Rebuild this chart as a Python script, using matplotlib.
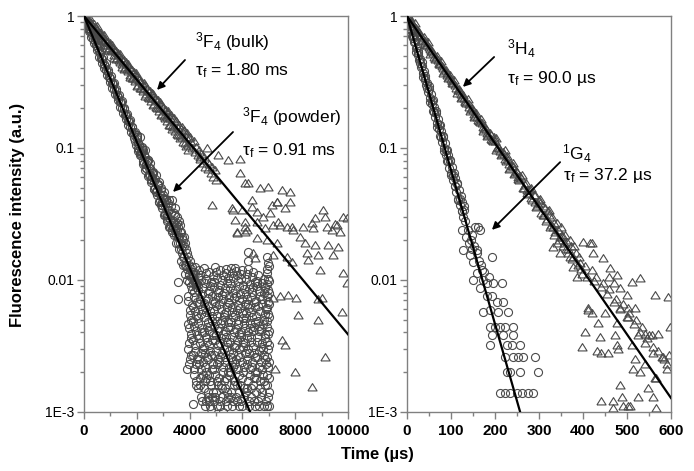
import matplotlib
matplotlib.use('Agg')
import matplotlib.pyplot as plt
from matplotlib.ticker import NullFormatter, LogLocator, MultipleLocator

plt.rcParams['font.family'] = ['Liberation Sans', 'DejaVu Sans']
plt.rcParams['mathtext.fontset'] = 'custom'
plt.rcParams['mathtext.rm'] = 'Liberation Sans'
plt.rcParams['mathtext.it'] = 'Liberation Sans:italic'
plt.rcParams['mathtext.bf'] = 'Liberation Sans:bold'

# ---------------- data (time in us, intensity in a.u.) ----------------
# 3F4 powder, circles
powder_dense = [
    (0, 1.00), (50, 0.93), (100, 0.90), (150, 0.84), (200, 0.81), (250, 0.75), (300, 0.72), (350, 0.67),
    (400, 0.65), (450, 0.60), (500, 0.58), (550, 0.54), (600, 0.52), (650, 0.48), (700, 0.47), (750, 0.43),
    (800, 0.42), (850, 0.39), (900, 0.375), (950, 0.345), (1000, 0.34), (1050, 0.31), (1100, 0.305),
    (1150, 0.278), (1200, 0.272), (1250, 0.250), (1300, 0.245), (1350, 0.224), (1400, 0.221), (1450, 0.200),
    (1500, 0.197), (1550, 0.178), (1600, 0.178), (1650, 0.159), (1700, 0.160), (1750, 0.143), (1800, 0.144),
    (1850, 0.127), (1900, 0.129), (1950, 0.113), (2000, 0.116), (2050, 0.100), (2100, 0.105), (2150, 0.089),
    (2200, 0.095), (2250, 0.079), (2300, 0.086), (2350, 0.070), (2400, 0.078), (2450, 0.062), (2500, 0.071),
    (2550, 0.055), (2600, 0.064), (2650, 0.049), (2700, 0.058), (2750, 0.044), (2800, 0.053), (2850, 0.039),
    (2900, 0.048), (2950, 0.035), (3000, 0.044), (3050, 0.031), (3100, 0.041), (3150, 0.028), (3200, 0.038),
    (3250, 0.025), (3300, 0.036), (3350, 0.023), (3400, 0.032),
    (2025, 0.120), (2125, 0.092), (2225, 0.097), (2325, 0.068), (2425, 0.081), (2525, 0.058), (2625, 0.066),
    (2725, 0.047), (2825, 0.055), (2925, 0.037), (3025, 0.046), (3125, 0.030), (3225, 0.040), (3325, 0.040),
    (3375, 0.028), (3425, 0.022), (3450, 0.035), (3475, 0.026), (3500, 0.019), (3525, 0.030), (3550, 0.021),
    (3575, 0.025), (3600, 0.017), (3625, 0.023), (3650, 0.019), (3675, 0.014), (3700, 0.021), (3725, 0.016),
    (3750, 0.013), (3775, 0.018), (3800, 0.015), (3825, 0.011), (3850, 0.017), (3875, 0.013), (3900, 0.010),
    (3560, 0.0096), (3560, 0.0071), (4130, 0.00115),
]
powder_dense2 = [
    (25, 0.99), (75, 0.86), (125, 0.94), (175, 0.77), (225, 0.84), (275, 0.69), (325, 0.76), (375, 0.62),
    (425, 0.68), (475, 0.55), (525, 0.61), (575, 0.49), (625, 0.54), (675, 0.44), (725, 0.49), (775, 0.40),
    (825, 0.44), (875, 0.355), (925, 0.39), (975, 0.318), (1025, 0.35), (1075, 0.285), (1125, 0.313),
    (1175, 0.256), (1225, 0.281), (1275, 0.229), (1325, 0.252), (1375, 0.205), (1425, 0.226), (1475, 0.184),
    (1525, 0.202), (1575, 0.165), (1625, 0.181), (1675, 0.148), (1725, 0.162), (1775, 0.132), (1825, 0.145),
    (1875, 0.118), (1925, 0.131), (1975, 0.106),
    (2012, 0.126), (2037, 0.094), (2062, 0.109), (2087, 0.096), (2112, 0.120), (2137, 0.088), (2162, 0.093),
    (2187, 0.100), (2212, 0.101), (2237, 0.075), (2262, 0.088), (2287, 0.077), (2312, 0.096), (2337, 0.071),
    (2362, 0.075), (2387, 0.080), (2412, 0.081), (2437, 0.061), (2462, 0.070), (2487, 0.062), (2512, 0.077),
    (2537, 0.057), (2562, 0.060), (2587, 0.064), (2612, 0.065), (2637, 0.049), (2662, 0.056), (2687, 0.050),
    (2712, 0.062), (2737, 0.046), (2762, 0.048), (2787, 0.052), (2812, 0.052), (2837, 0.039), (2862, 0.045),
    (2887, 0.040), (2912, 0.050), (2937, 0.037), (2962, 0.039), (2987, 0.041), (3012, 0.042), (3037, 0.031),
    (3062, 0.036), (3087, 0.032), (3112, 0.040), (3137, 0.029), (3162, 0.031), (3187, 0.033), (3212, 0.034),
    (3237, 0.025), (3262, 0.029), (3287, 0.026), (3312, 0.032), (3337, 0.024), (3362, 0.025), (3387, 0.027),
    (3420, 0.027), (3440, 0.024), (3460, 0.031), (3480, 0.022), (3510, 0.027), (3530, 0.024), (3560, 0.019),
    (3590, 0.028), (3610, 0.021), (3640, 0.026), (3660, 0.017), (3690, 0.023), (3710, 0.018), (3740, 0.020),
    (3760, 0.015), (3790, 0.021), (3810, 0.013), (3840, 0.019), (3860, 0.014), (3890, 0.016), (3910, 0.012),
    (3930, 0.015), (3960, 0.013), (3990, 0.011), (4020, 0.014), (4050, 0.0105), (4080, 0.0125), (4110, 0.0095),
    (4140, 0.011), (4170, 0.0098), (4220, 0.0112), (4260, 0.0094), (4300, 0.0105),
]
powder_cloud = [
    (4050, 0.0120), (3980, 0.0096), (4080, 0.0083), (3950, 0.0069), (4030, 0.0059), (4070, 0.0050),
    (3990, 0.0043), (4060, 0.0036), (3940, 0.0030), (4010, 0.0025), (3920, 0.0021),
    (4200, 0.0125), (4140, 0.0105), (4260, 0.0088), (4180, 0.0074), (4120, 0.0062), (4240, 0.0053),
    (4160, 0.0045), (4280, 0.0038), (4210, 0.0032), (4130, 0.0027), (4250, 0.0023), (4170, 0.0019), (4230, 0.0016),
    (4350, 0.0118), (4440, 0.0099), (4310, 0.0084), (4400, 0.0071), (4470, 0.0060), (4330, 0.0051),
    (4420, 0.0043), (4370, 0.0036), (4490, 0.0030), (4340, 0.0025), (4450, 0.0021), (4390, 0.0018),
    (4320, 0.0015), (4460, 0.0012),
    (4560, 0.0122), (4620, 0.0102), (4520, 0.0086), (4680, 0.0073), (4590, 0.0062), (4540, 0.0052),
    (4650, 0.0044), (4610, 0.0037), (4530, 0.0031), (4670, 0.0026), (4580, 0.0022), (4640, 0.0018),
    (4550, 0.0015), (4690, 0.0013), (4600, 0.0011),
    (4750, 0.0115), (4820, 0.0097), (4720, 0.0082), (4880, 0.0069), (4790, 0.0058), (4840, 0.0049),
    (4730, 0.0041), (4860, 0.0035), (4780, 0.0029), (4710, 0.0025), (4850, 0.0021), (4770, 0.0017),
    (4890, 0.0014), (4740, 0.0012), (4810, 0.00105),
    (4960, 0.0124), (5030, 0.0104), (4920, 0.0088), (5080, 0.0074), (4990, 0.0063), (5050, 0.0053),
    (4940, 0.0045), (5010, 0.0038), (5070, 0.0032), (4910, 0.0027), (5040, 0.0023), (4970, 0.0019),
    (5090, 0.0016), (4950, 0.0013), (5020, 0.0011),
    (5150, 0.0118), (5220, 0.0099), (5120, 0.0084), (5270, 0.0071), (5180, 0.0060), (5240, 0.0050),
    (5130, 0.0043), (5200, 0.0036), (5290, 0.0030), (5160, 0.0026), (5250, 0.0022), (5110, 0.0018),
    (5230, 0.0015), (5170, 0.0012), (5280, 0.0010),
    (5360, 0.0112), (5420, 0.0094), (5320, 0.0080), (5470, 0.0068), (5380, 0.0057), (5440, 0.0048),
    (5330, 0.0041), (5400, 0.0034), (5490, 0.0029), (5350, 0.0024), (5460, 0.0020), (5310, 0.0017),
    (5430, 0.0014), (5370, 0.0012),
    (5560, 0.0123), (5630, 0.0103), (5520, 0.0087), (5680, 0.0073), (5590, 0.0062), (5650, 0.0052),
    (5540, 0.0044), (5610, 0.0037), (5690, 0.0031), (5570, 0.0026), (5640, 0.0022), (5510, 0.0019),
    (5670, 0.0016), (5580, 0.0013), (5620, 0.0011),
    (5760, 0.0117), (5830, 0.0098), (5720, 0.0083), (5880, 0.0070), (5790, 0.0059), (5850, 0.0050),
    (5740, 0.0042), (5810, 0.0035), (5890, 0.0030), (5770, 0.0025), (5840, 0.0021), (5710, 0.0017),
    (5870, 0.0014), (5780, 0.0012),
    (5960, 0.0110), (6030, 0.0092), (5920, 0.0078), (6080, 0.0066), (5990, 0.0056), (6050, 0.0047),
    (5940, 0.0040), (6010, 0.0034), (6090, 0.0028), (5970, 0.0024), (6040, 0.0020), (5910, 0.0016),
    (6070, 0.0013), (5980, 0.0011),
    (6210, 0.0163), (6200, 0.0140), (6220, 0.0121), (6150, 0.0101), (6260, 0.0085), (6180, 0.0072),
    (6240, 0.0061), (6130, 0.0051), (6270, 0.0043), (6190, 0.0036), (6230, 0.0030), (6160, 0.0025),
    (6280, 0.0021), (6210, 0.0017), (6140, 0.0014), (6250, 0.0011),
    (6360, 0.0105), (6420, 0.0088), (6330, 0.0074), (6470, 0.0062), (6380, 0.0052), (6440, 0.0044),
    (6340, 0.0037), (6400, 0.0031), (6490, 0.0026), (6370, 0.0022), (6450, 0.0018), (6320, 0.0015),
    (6430, 0.0012),
    (6560, 0.0098), (6620, 0.0082), (6530, 0.0069), (6680, 0.0058), (6590, 0.0049), (6640, 0.0041),
    (6540, 0.0034), (6610, 0.0029), (6690, 0.0024), (6570, 0.0020), (6650, 0.0017), (6520, 0.0014),
    (6630, 0.0011),
    (6760, 0.0094), (6820, 0.0079), (6730, 0.0066), (6870, 0.0055), (6790, 0.0046), (6840, 0.0039),
    (6740, 0.0033), (6810, 0.0027), (6880, 0.0023), (6770, 0.0019), (6850, 0.0016), (6720, 0.0013),
    (6830, 0.0011),
    (6950, 0.0150), (6960, 0.0135), (6940, 0.0121), (6950, 0.0112), (6970, 0.0102), (6930, 0.0093),
    (6960, 0.0084), (6950, 0.0076), (6980, 0.0068), (6940, 0.0061), (6960, 0.0055), (6950, 0.0049),
    (6930, 0.0044), (6970, 0.0039), (6950, 0.0034), (6960, 0.0030), (6940, 0.0026), (6980, 0.0022),
    (6950, 0.0019), (6930, 0.0016), (6960, 0.0013), (6950, 0.0011),
    (5720, 0.0123), (6550, 0.0095),
]
powder_cloud2 = [
    (3960, 0.0108), (4040, 0.0089), (3930, 0.0076), (4090, 0.0064), (4000, 0.0054), (3950, 0.0046),
    (4070, 0.0039), (3970, 0.0033), (4040, 0.0027), (3980, 0.0023),
    (4110, 0.0115), (4220, 0.0097), (4150, 0.0081), (4270, 0.0068), (4190, 0.0058), (4140, 0.0049),
    (4250, 0.0041), (4120, 0.0035), (4200, 0.0029), (4290, 0.0025), (4160, 0.0021), (4260, 0.0017),
    (4410, 0.0108), (4330, 0.0092), (4480, 0.0078), (4360, 0.0065), (4430, 0.0055), (4310, 0.0047),
    (4460, 0.0040), (4380, 0.0033), (4420, 0.0028), (4350, 0.0023), (4490, 0.0019), (4400, 0.0016), (4440, 0.0013),
    (4640, 0.0112), (4570, 0.0094), (4690, 0.0079), (4530, 0.0067), (4620, 0.0057), (4680, 0.0048),
    (4550, 0.0040), (4660, 0.0034), (4590, 0.0028), (4520, 0.0024), (4630, 0.0020), (4570, 0.0017),
    (4680, 0.0014), (4610, 0.0012),
    (4870, 0.0106), (4780, 0.0089), (4830, 0.0075), (4710, 0.0063), (4860, 0.0053), (4760, 0.0045),
    (4890, 0.0038), (4720, 0.0032), (4820, 0.0027), (4880, 0.0023), (4740, 0.0019), (4800, 0.0016),
    (4850, 0.0013), (4770, 0.0011),
    (5000, 0.0114), (4930, 0.0096), (5060, 0.0081), (4980, 0.0068), (4910, 0.0058), (5030, 0.0049),
    (5090, 0.0041), (4950, 0.0035), (5010, 0.0029), (5080, 0.0025), (4940, 0.0021), (5050, 0.0017),
    (4990, 0.0014), (4920, 0.0012),
    (5260, 0.0108), (5140, 0.0091), (5210, 0.0077), (5110, 0.0065), (5290, 0.0055), (5190, 0.0047),
    (5250, 0.0039), (5160, 0.0033), (5230, 0.0028), (5120, 0.0024), (5280, 0.0020), (5180, 0.0016),
    (5220, 0.0013), (5140, 0.0011),
    (5390, 0.0120), (5450, 0.0103), (5340, 0.0087), (5480, 0.0074), (5410, 0.0062), (5310, 0.0052),
    (5460, 0.0044), (5370, 0.0037), (5420, 0.0031), (5330, 0.0026), (5490, 0.0022), (5390, 0.0018),
    (5350, 0.0015), (5470, 0.0013), (5410, 0.0011),
    (5600, 0.0113), (5540, 0.0095), (5660, 0.0080), (5510, 0.0067), (5620, 0.0057), (5580, 0.0048),
    (5690, 0.0040), (5530, 0.0034), (5650, 0.0028), (5600, 0.0024), (5520, 0.0020), (5680, 0.0017),
    (5560, 0.0014), (5640, 0.0012),
    (5800, 0.0108), (5870, 0.0090), (5740, 0.0076), (5850, 0.0064), (5710, 0.0054), (5820, 0.0046),
    (5890, 0.0039), (5760, 0.0032), (5840, 0.0027), (5730, 0.0023), (5880, 0.0019), (5790, 0.0016),
    (5750, 0.0013), (5860, 0.0011),
    (6000, 0.0118), (5930, 0.0101), (6060, 0.0085), (5970, 0.0072), (5900, 0.0061), (6040, 0.0051),
    (6090, 0.0043), (5950, 0.0037), (6020, 0.0031), (5910, 0.0026), (6070, 0.0022), (5990, 0.0018),
    (6050, 0.0015), (5940, 0.0012),
    (6170, 0.0110), (6290, 0.0093), (6120, 0.0078), (6230, 0.0066), (6140, 0.0056), (6270, 0.0047),
    (6200, 0.0040), (6110, 0.0033), (6250, 0.0028), (6160, 0.0023), (6290, 0.0019), (6180, 0.0015),
    (6240, 0.0012),
    (6400, 0.0114), (6480, 0.0096), (6350, 0.0081), (6430, 0.0068), (6310, 0.0057), (6460, 0.0048),
    (6390, 0.0041), (6330, 0.0034), (6440, 0.0028), (6360, 0.0024), (6490, 0.0020), (6410, 0.0016),
    (6340, 0.0013), (6470, 0.0011),
    (6600, 0.0108), (6540, 0.0090), (6670, 0.0075), (6580, 0.0063), (6510, 0.0053), (6640, 0.0045),
    (6570, 0.0037), (6690, 0.0031), (6550, 0.0026), (6620, 0.0022), (6530, 0.0018), (6660, 0.0015),
    (6590, 0.0012),
    (6800, 0.0102), (6860, 0.0086), (6750, 0.0072), (6890, 0.0060), (6810, 0.0050), (6720, 0.0042),
    (6840, 0.0036), (6780, 0.0030), (6870, 0.0025), (6730, 0.0021), (6820, 0.0017), (6760, 0.0014),
    (6880, 0.0012),
    (7000, 0.0128), (7010, 0.0098), (6990, 0.0080), (7000, 0.0065), (7010, 0.0052), (6990, 0.0041),
    (7000, 0.0032), (7010, 0.0024), (6990, 0.0018), (7000, 0.0014), (7010, 0.0011),
]

# 3F4 bulk, triangles
bulk_dense = [
    (0, 1.00), (50, 0.96), (100, 0.95), (150, 0.93), (200, 0.87), (250, 0.88), (300, 0.86), (350, 0.80),
    (400, 0.83), (450, 0.76), (500, 0.78), (550, 0.72), (600, 0.74), (650, 0.68), (700, 0.70), (750, 0.64),
    (800, 0.66), (850, 0.60), (900, 0.63), (950, 0.57), (1000, 0.60), (1050, 0.54), (1100, 0.56), (1150, 0.51),
    (1200, 0.54), (1250, 0.48), (1300, 0.51), (1350, 0.45), (1400, 0.48), (1450, 0.43), (1500, 0.46),
    (1550, 0.40), (1600, 0.44), (1650, 0.38), (1700, 0.41), (1750, 0.36), (1800, 0.39), (1850, 0.34),
    (1900, 0.37), (1950, 0.32), (2000, 0.35), (2050, 0.30), (2100, 0.33), (2150, 0.285), (2200, 0.31),
    (2250, 0.27), (2300, 0.30), (2350, 0.255), (2400, 0.28), (2450, 0.24), (2500, 0.27), (2550, 0.225),
    (2600, 0.255), (2650, 0.215), (2700, 0.24), (2750, 0.20), (2800, 0.23), (2850, 0.19), (2900, 0.215),
    (2950, 0.18), (3000, 0.205), (3050, 0.17), (3100, 0.195), (3150, 0.16), (3200, 0.185), (3250, 0.15),
    (3300, 0.178), (3350, 0.14), (3400, 0.168), (3450, 0.135), (3500, 0.160), (3550, 0.125), (3600, 0.150),
    (3650, 0.118), (3700, 0.143), (3750, 0.110), (3800, 0.136), (3850, 0.104), (3900, 0.130), (3950, 0.097),
    (4000, 0.122),
]
bulk_dense2 = [
    (25, 0.92), (75, 0.99), (125, 0.905), (175, 0.99), (225, 0.795), (275, 0.892), (325, 0.777), (375, 0.869),
    (425, 0.766), (475, 0.845), (525, 0.672), (575, 0.756), (625, 0.658), (675, 0.735), (725, 0.649),
    (775, 0.715), (825, 0.570), (875, 0.640), (925, 0.556), (975, 0.623), (1025, 0.549), (1075, 0.606),
    (1125, 0.482), (1175, 0.542), (1225, 0.472), (1275, 0.528), (1325, 0.465), (1375, 0.513), (1425, 0.408),
    (1475, 0.459), (1525, 0.399), (1575, 0.446), (1625, 0.394), (1675, 0.435), (1725, 0.346), (1775, 0.388),
    (1825, 0.338), (1875, 0.378), (1925, 0.334), (1975, 0.367), (2025, 0.293), (2075, 0.329), (2125, 0.286),
    (2175, 0.320), (2225, 0.282), (2275, 0.311), (2325, 0.248), (2375, 0.279), (2425, 0.242), (2475, 0.271),
    (2525, 0.239), (2575, 0.263), (2625, 0.210), (2675, 0.236), (2725, 0.205), (2775, 0.229), (2825, 0.202),
    (2875, 0.223), (2925, 0.177), (2975, 0.200), (3025, 0.174), (3075, 0.194), (3125, 0.171), (3175, 0.189),
    (3225, 0.150), (3275, 0.168), (3325, 0.147), (3375, 0.165), (3425, 0.145), (3475, 0.160), (3525, 0.127),
    (3575, 0.142), (3625, 0.125), (3675, 0.139), (3725, 0.122), (3775, 0.135), (3825, 0.108), (3875, 0.121),
    (3925, 0.105), (3975, 0.118),
]
bulk_scatter = [
    (4050, 0.110), (4100, 0.100), (4150, 0.113), (4200, 0.093), (4250, 0.102), (4300, 0.088), (4350, 0.097),
    (4400, 0.083), (4450, 0.090), (4500, 0.077), (4550, 0.086), (4600, 0.072), (4650, 0.080), (4700, 0.069),
    (4750, 0.076), (4800, 0.064), (4850, 0.072), (4900, 0.060), (4950, 0.068), (5000, 0.057),
    (5080, 0.088), (5455, 0.081), (5910, 0.082), (4836, 0.037), (5910, 0.0645), (6212, 0.0542),
    (6099, 0.054), (6667, 0.0497), (6970, 0.0505), (7500, 0.048), (7803, 0.0464), (7311, 0.0389),
    (5606, 0.035), (5985, 0.0338), (6364, 0.0356), (6553, 0.0326), (6364, 0.040), (7122, 0.0372),
    (5720, 0.0284), (6099, 0.0274), (6553, 0.0274), (5796, 0.0230), (6174, 0.0238), (6856, 0.0247),
    (7349, 0.0274), (7879, 0.0251), (7425, 0.0261), (6553, 0.0207), (6932, 0.0200), (7311, 0.0190),
    (8182, 0.0211), (8371, 0.0190), (8750, 0.0294), (9053, 0.0338), (8674, 0.0247), (9205, 0.0251),
    (9508, 0.0263), (9697, 0.0230), (9962, 0.0294), (8750, 0.0184), (9243, 0.0184), (9621, 0.0178),
    (8447, 0.0160), (8864, 0.0154), (9432, 0.0154), (6402, 0.0160), (7160, 0.0154), (7690, 0.0149),
    (7879, 0.0137), (8485, 0.0141), (7160, 0.0073), (7425, 0.0075), (7727, 0.0077), (8030, 0.0073),
    (8864, 0.0071), (8106, 0.0054), (8864, 0.0050), (5800, 0.0226), (6100, 0.023), (6480, 0.0146),
    (9810, 0.0113), (9960, 0.0095), (9770, 0.0057), (9020, 0.0073), (7500, 0.0035), (7610, 0.0032),
    (9130, 0.0026), (7230, 0.0021), (7990, 0.0020), (8640, 0.00155), (8940, 0.0118), (5650, 0.034),
    (6100, 0.025), (6780, 0.030), (7160, 0.026), (7920, 0.024), (8300, 0.025), (8640, 0.027),
    (9130, 0.030), (9390, 0.024), (9580, 0.026), (9810, 0.030), (7690, 0.025), (7310, 0.039),
    (7610, 0.035), (7800, 0.039), (7050, 0.032), (4394, 0.085), (4660, 0.100),
]

# 3H4, triangles
h4_dense = [
    (0, 1.00), (5, 0.95), (10, 0.90), (15, 0.84), (20, 0.81), (25, 0.75), (30, 0.72), (35, 0.68), (40, 0.65),
    (45, 0.60), (50, 0.58), (55, 0.54), (60, 0.52), (65, 0.48), (70, 0.465), (75, 0.43), (80, 0.415),
    (85, 0.385), (90, 0.372), (95, 0.343), (100, 0.333), (105, 0.308), (110, 0.299), (115, 0.275),
    (120, 0.268), (125, 0.245), (130, 0.240), (135, 0.218), (140, 0.215), (145, 0.196), (150, 0.193),
    (155, 0.175), (160, 0.173), (165, 0.156), (170, 0.155), (175, 0.140), (180, 0.139), (185, 0.125),
    (190, 0.125), (195, 0.112), (200, 0.112), (205, 0.100), (210, 0.100), (215, 0.090), (220, 0.090),
    (225, 0.080), (230, 0.081), (235, 0.071), (240, 0.073), (245, 0.064), (250, 0.066), (255, 0.057),
    (260, 0.059), (265, 0.050), (270, 0.054), (275, 0.045), (280, 0.049), (285, 0.040), (290, 0.044),
    (295, 0.036), (300, 0.040), (305, 0.032), (310, 0.036), (315, 0.028), (320, 0.033), (325, 0.025),
    (330, 0.030), (335, 0.022), (340, 0.027), (345, 0.020), (350, 0.025), (355, 0.018), (360, 0.022),
    (365, 0.016), (370, 0.020), (375, 0.0145), (380, 0.018),
    (2, 0.98), (12, 0.88), (22, 0.79), (32, 0.70), (42, 0.62), (52, 0.56), (62, 0.49), (72, 0.44),
    (82, 0.40), (92, 0.355), (102, 0.32), (112, 0.285), (122, 0.255), (132, 0.228), (142, 0.204),
    (152, 0.181), (162, 0.162), (172, 0.145), (182, 0.130), (192, 0.116),
    (202, 0.118), (212, 0.094), (222, 0.096), (232, 0.075), (242, 0.077), (252, 0.060), (262, 0.062),
    (272, 0.048), (282, 0.050), (292, 0.039), (302, 0.041), (312, 0.031), (322, 0.034), (332, 0.0177),
    (332, 0.025), (342, 0.0189), (348, 0.016), (352, 0.021), (362, 0.017), (370, 0.015), (377, 0.0125),
    (386, 0.0105),
]
h4_dense2 = [
    (2.5, 0.915), (7.5, 0.966), (12.5, 0.844), (17.5, 0.890), (22.5, 0.717), (27.5, 0.759), (32.5, 0.655),
    (37.5, 0.692), (42.5, 0.605), (47.5, 0.637), (52.5, 0.513), (57.5, 0.544), (62.5, 0.469), (67.5, 0.496),
    (72.5, 0.434), (77.5, 0.457), (82.5, 0.368), (87.5, 0.389), (92.5, 0.337), (97.5, 0.355), (102.5, 0.310),
    (107.5, 0.327), (112.5, 0.263), (117.5, 0.279), (122.5, 0.241), (127.5, 0.254), (132.5, 0.222),
    (137.5, 0.234), (142.5, 0.189), (147.5, 0.200), (152.5, 0.173), (157.5, 0.183), (162.5, 0.159),
    (167.5, 0.167), (172.5, 0.135), (177.5, 0.143), (182.5, 0.124), (187.5, 0.130), (192.5, 0.114),
    (197.5, 0.120), (202.5, 0.0966), (207.5, 0.102), (212.5, 0.0885), (217.5, 0.0935), (222.5, 0.0817),
    (227.5, 0.0861), (232.5, 0.0694), (237.5, 0.0734), (242.5, 0.0634), (247.5, 0.0670), (252.5, 0.0585),
    (257.5, 0.0617), (262.5, 0.0497), (267.5, 0.0526), (272.5, 0.0454), (277.5, 0.0480), (282.5, 0.0419),
    (287.5, 0.0442), (292.5, 0.0356), (297.5, 0.0377),
    (303, 0.038), (308, 0.031), (313, 0.035), (318, 0.029), (323, 0.031), (327, 0.026), (333, 0.027),
    (337, 0.023), (343, 0.024), (347, 0.021), (353, 0.022), (357, 0.019), (363, 0.0195), (367, 0.017),
    (373, 0.018), (378, 0.015), (383, 0.016), (388, 0.013), (393, 0.0135), (398, 0.011),
]
h4_scatter = [
    (390, 0.0150), (395, 0.0120), (405, 0.0128), (410, 0.0105), (420, 0.0118), (425, 0.0098), (430, 0.0105),
    (440, 0.0088), (445, 0.0095), (455, 0.0078), (460, 0.0085), (470, 0.0068), (475, 0.0072), (485, 0.0060),
    (490, 0.0065), (500, 0.0052), (505, 0.0056), (515, 0.0046), (520, 0.0050), (530, 0.0040), (535, 0.0044),
    (545, 0.0036), (550, 0.0038), (560, 0.0031), (570, 0.0029), (580, 0.0026), (590, 0.0023), (595, 0.0027),
    (401, 0.0194), (420, 0.0189), (446, 0.0146), (461, 0.0122), (477, 0.0109), (511, 0.0097), (530, 0.0103),
    (484, 0.0086), (499, 0.0077), (564, 0.0077), (594, 0.0074), (412, 0.0061), (420, 0.0056), (450, 0.0056),
    (484, 0.0061), (503, 0.0061), (518, 0.0061), (435, 0.0047), (477, 0.0047), (503, 0.0052), (405, 0.0040),
    (439, 0.0037), (473, 0.0038), (477, 0.0032), (397, 0.0031), (431, 0.0029), (442, 0.0028), (457, 0.0028),
    (480, 0.0030), (511, 0.0032), (526, 0.0038), (541, 0.0039), (556, 0.0038), (571, 0.0039), (541, 0.0033),
    (518, 0.0025), (541, 0.0023), (560, 0.0028), (583, 0.0025), (590, 0.0021), (514, 0.0021), (530, 0.0020),
    (567, 0.0018), (548, 0.0015), (484, 0.0016), (526, 0.0013), (560, 0.0013), (442, 0.0012), (469, 0.0012),
    (488, 0.0013), (567, 0.00106), (469, 0.00106), (492, 0.0011), (507, 0.0011), (598, 0.0044),
    (416, 0.0190), (423, 0.0160), (411, 0.0059), (582, 0.0026), (564, 0.0018), (502, 0.0011),
    (460, 0.0105), (470, 0.0095),
]

# 1G4, circles
g4_dense = [
    (0, 0.98), (2, 0.96), (4, 0.88), (6, 0.87), (8, 0.79), (10, 0.79), (12, 0.71), (14, 0.71), (16, 0.64),
    (18, 0.64), (20, 0.57), (22, 0.58), (24, 0.51), (26, 0.52), (28, 0.46), (30, 0.47), (32, 0.41),
    (34, 0.42), (36, 0.37), (38, 0.38), (40, 0.33), (42, 0.34), (44, 0.30), (46, 0.31), (48, 0.265),
    (50, 0.28), (52, 0.24), (54, 0.255), (56, 0.215), (58, 0.23), (60, 0.19), (62, 0.205), (64, 0.172),
    (66, 0.185), (68, 0.155), (70, 0.166), (72, 0.139), (74, 0.150), (76, 0.124), (78, 0.135), (80, 0.111),
    (82, 0.121), (84, 0.100), (86, 0.108), (88, 0.089), (90, 0.097), (92, 0.080), (94, 0.088), (96, 0.071),
    (98, 0.080), (100, 0.064), (102, 0.072), (104, 0.057), (106, 0.065), (108, 0.051), (110, 0.059),
    (112, 0.046), (114, 0.054), (116, 0.041), (118, 0.048), (120, 0.037), (122, 0.043), (124, 0.033),
    (126, 0.039), (128, 0.030), (130, 0.036),
    (1, 0.99), (5, 0.81), (9, 0.82), (13, 0.68), (17, 0.70), (21, 0.53), (25, 0.54), (29, 0.44), (33, 0.45),
    (37, 0.344), (41, 0.349), (45, 0.286), (49, 0.295), (53, 0.224), (57, 0.227), (61, 0.186), (65, 0.191),
    (69, 0.145), (73, 0.148), (77, 0.121), (81, 0.124), (85, 0.095), (89, 0.096), (93, 0.079), (97, 0.081),
    (101, 0.062), (105, 0.062), (109, 0.051), (113, 0.053), (117, 0.040), (121, 0.041), (125, 0.033),
    (129, 0.034),
]
g4_tail = [
    (127, 0.0168), (143, 0.0154), (150, 0.0137), (193, 0.0150), (159, 0.0113), (170, 0.0119), (150, 0.0100),
    (173, 0.0100), (166, 0.0087), (182, 0.0094), (195, 0.0094), (216, 0.0094), (182, 0.0075), (193, 0.0075),
    (205, 0.0068), (218, 0.0068), (173, 0.0057), (189, 0.0059), (207, 0.0057), (230, 0.0057), (189, 0.0044),
    (200, 0.0044), (211, 0.0044), (223, 0.0044), (241, 0.0044), (193, 0.0038), (218, 0.0038), (241, 0.0038),
    (189, 0.0032), (227, 0.0032), (239, 0.0032), (257, 0.0032), (223, 0.0026), (241, 0.0026), (252, 0.0026),
    (264, 0.0026), (291, 0.0026), (227, 0.0020), (234, 0.0020), (257, 0.0020), (298, 0.0020), (211, 0.00138),
    (223, 0.00138), (234, 0.00138), (250, 0.00138), (261, 0.00138), (275, 0.00138), (286, 0.00138),
    (166, 0.0239), (155, 0.025), (148, 0.022), (135, 0.021), (140, 0.019), (161, 0.025), (125, 0.0239),
    (132, 0.028), (138, 0.024), (145, 0.020), (152, 0.018), (158, 0.016), (164, 0.014), (168, 0.013),
    (176, 0.0115), (186, 0.0105), (160, 0.0168), (147, 0.017),
]

# single-exponential fits: end points of each straight line on the log axis
bulk_fit_t, bulk_fit_y = [0, 10000], [1.0, 0.00386]
powder_fit_t, powder_fit_y = [0, 6500], [1.0, 0.00079]
h4_fit_t, h4_fit_y = [0, 600], [1.0, 0.00127]
g4_fit_t, g4_fit_y = [0, 270], [1.0, 0.000704]

y_ticks = [1e-3, 1e-2, 1e-1, 1]
y_tick_labels = ['1E-3', '0.01', '0.1', '1']
left_x_ticks = [0, 2000, 4000, 6000, 8000, 10000]
right_x_ticks = [0, 100, 200, 300, 400, 500, 600]

EDGE = '#4a4a4a'
FRAME = '#808080'
TRI = [(-1, -0.75), (1, -0.75), (0, 0.85), (-1, -0.75)]


def scatter(ax, pts, marker, ms):
    t, y = zip(*pts)
    ax.plot(t, y, linestyle='none', marker=marker, ms=ms, mfc='none', mec=EDGE, mew=0.8, zorder=2)


def style_axes(ax, xticks, xmax, minor):
    ax.set_yscale('log')
    ax.set_ylim(1e-3, 1)
    ax.set_xlim(0, xmax)
    ax.set_yticks(y_ticks)
    ax.set_yticklabels(y_tick_labels, fontsize=10)
    ax.yaxis.set_minor_locator(LogLocator(base=10, subs=range(2, 10)))
    ax.yaxis.set_minor_formatter(NullFormatter())
    ax.set_xticks(xticks)
    ax.set_xticklabels([str(v) for v in xticks], fontsize=11, fontweight='bold')
    ax.xaxis.set_minor_locator(MultipleLocator(minor))
    for s in ax.spines.values():
        s.set_color(FRAME)
        s.set_linewidth(1.0)
    ax.tick_params(which='both', direction='out', color=FRAME, width=1.0)
    ax.tick_params(which='major', length=5)
    ax.tick_params(which='minor', length=3)
    ax.tick_params(axis='x', pad=4)
    ax.tick_params(axis='y', pad=2)


fig = plt.figure(figsize=(6.94, 4.71), dpi=100)
ax1 = fig.add_axes([84 / 694, 59.3 / 471, 264 / 694, 395.7 / 471])
ax2 = fig.add_axes([407 / 694, 59.3 / 471, 264 / 694, 395.7 / 471])

# left panel
for pts in (bulk_dense, bulk_dense2, bulk_scatter):
    scatter(ax1, pts, TRI, 6.6)
for pts in (powder_dense, powder_dense2, powder_cloud, powder_cloud2):
    scatter(ax1, pts, 'o', 5.8)
ax1.plot(bulk_fit_t, bulk_fit_y, color='black', lw=1.6, zorder=3)
ax1.plot(powder_fit_t, powder_fit_y, color='black', lw=1.6, zorder=3)
style_axes(ax1, left_x_ticks, 10000, 1000)

# right panel
for pts in (h4_dense, h4_dense2, h4_scatter):
    scatter(ax2, pts, TRI, 6.6)
for pts in (g4_dense, g4_tail):
    scatter(ax2, pts, 'o', 5.8)
ax2.plot(h4_fit_t, h4_fit_y, color='black', lw=1.6, zorder=3)
ax2.plot(g4_fit_t, g4_fit_y, color='black', lw=1.6, zorder=3)
style_axes(ax2, right_x_ticks, 600, 50)

arrow = dict(arrowstyle='-|>', color='black', lw=1.3, mutation_scale=11, shrinkA=0, shrinkB=0)
tfs = 12.5

ax1.text(4205, 0.58, r'$^{3}$F$_{4}$ (bulk)', fontsize=tfs)
ax1.text(4205, 0.355, r'τ$_{\mathrm{f}}$ = 1.80 ms', fontsize=tfs)
ax1.annotate('', xy=(2765, 0.275), xytext=(3826, 0.464), arrowprops=arrow)
ax1.text(5985, 0.157, r'$^{3}$F$_{4}$ (powder)', fontsize=tfs)
ax1.text(5985, 0.088, r'τ$_{\mathrm{f}}$ = 0.91 ms', fontsize=tfs)
ax1.annotate('', xy=(3371, 0.0463), xytext=(5644, 0.132), arrowprops=arrow)

ax2.text(227, 0.506, r'$^{3}$H$_{4}$', fontsize=tfs)
ax2.text(227, 0.31, r'τ$_{\mathrm{f}}$ = 90.0 µs', fontsize=tfs)
ax2.annotate('', xy=(127, 0.290), xytext=(198, 0.489), arrowprops=arrow)
ax2.text(352, 0.081, r'$^{1}$G$_{4}$', fontsize=tfs)
ax2.text(355, 0.057, r'τ$_{\mathrm{f}}$ = 37.2 µs', fontsize=tfs)
ax2.annotate('', xy=(193, 0.0239), xytext=(348, 0.078), arrowprops=arrow)

fig.text(18 / 694, 1 - 215 / 471, 'Fluorescence intensity (a.u.)', rotation=90, ha='center', va='center',
         fontsize=12, fontweight='bold')
fig.text(377 / 694, 1 - 455 / 471, 'Time (µs)', ha='center', va='center', fontsize=12, fontweight='bold')

fig.savefig('out.png', dpi=100)
